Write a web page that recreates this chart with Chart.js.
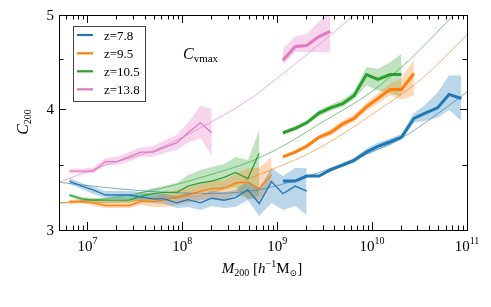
<!DOCTYPE html>
<html>
<head>
<meta charset="utf-8">
<script src="https://cdn.jsdelivr.net/npm/chart.js@4.4.0/dist/chart.umd.min.js"></script>
<style>
  html, body { margin: 0; padding: 0; background: #fff; }
</style>
</head>
<body>
<canvas id="chart" width="491" height="307"></canvas>
<script>
// log10 of the bin centre masses (h^-1 Msun)
const logM_low = [6.81, 6.94, 7.06, 7.19, 7.31, 7.44, 7.56, 7.69, 7.81, 7.94, 8.06, 8.19, 8.31, 8.44, 8.56, 8.69, 8.81, 8.94, 9.06, 9.19, 9.31];
const logM_high = [9.06, 9.19, 9.31, 9.44, 9.56, 9.69, 9.81, 9.94, 10.06, 10.19, 10.31, 10.44, 10.56, 10.69, 10.81, 10.94];

const labels = ["z=7.8", "z=9.5", "z=10.5", "z=13.8"];
const colors = ["#1f77b4", "#ff7f0e", "#2ca02c", "#e377c2"];

// low-mass run: median C200 and the shaded range
const blueLow = [3.37, 3.33, 3.30, 3.26, 3.26, 3.26, 3.245, 3.23, 3.23, 3.20, 3.225, 3.20, 3.235, 3.22, 3.24, 3.30, 3.195, 3.365, 3.27, 3.33, 3.29];
const blueLowHi = [3.395, 3.355, 3.323, 3.291, 3.291, 3.291, 3.283, 3.268, 3.268, 3.252, 3.276, 3.26, 3.291, 3.283, 3.299, 3.37, 3.315, 3.476, 3.411, 3.476, 3.476];
const blueLowLo = [3.346, 3.307, 3.268, 3.237, 3.229, 3.229, 3.214, 3.199, 3.191, 3.161, 3.169, 3.146, 3.176, 3.161, 3.169, 3.222, 3.101, 3.199, 3.146, 3.176, 3.109];

const orangeLow = [3.21, 3.21, 3.20, 3.18, 3.18, 3.18, 3.21, 3.21, 3.22, 3.245, 3.26, 3.29, 3.31, 3.315, 3.355, 3.36, 3.31, 3.42];
const orangeLowHi = [3.222, 3.229, 3.222, 3.206, 3.206, 3.206, 3.245, 3.245, 3.276, 3.299, 3.315, 3.346, 3.37, 3.378, 3.427, 3.476, 3.476, 3.568];
const orangeLowLo = [3.191, 3.199, 3.176, 3.161, 3.161, 3.161, 3.184, 3.169, 3.169, 3.184, 3.199, 3.222, 3.229, 3.222, 3.26, 3.237, 3.22, 3.346];

const greenLow = [3.26, 3.23, 3.22, 3.22, 3.22, 3.22, 3.25, 3.27, 3.28, 3.28, 3.33, 3.355, 3.37, 3.40, 3.44, 3.39, 3.60];
const greenLowHi = [3.276, 3.245, 3.237, 3.237, 3.245, 3.252, 3.283, 3.315, 3.33, 3.355, 3.419, 3.46, 3.484, 3.509, 3.568, 3.543, 3.805];
const greenLowLo = [3.245, 3.214, 3.199, 3.199, 3.199, 3.199, 3.222, 3.237, 3.237, 3.229, 3.26, 3.276, 3.283, 3.299, 3.323, 3.222, 3.26];

const pinkLow = [3.45, 3.45, 3.45, 3.53, 3.53, 3.57, 3.61, 3.61, 3.65, 3.69, 3.78, 3.87, 3.78];
const pinkLowHi = [3.47, 3.47, 3.48, 3.56, 3.57, 3.61, 3.65, 3.66, 3.71, 3.76, 3.87, 4.03, 4.00];
const pinkLowLo = [3.43, 3.43, 3.43, 3.50, 3.50, 3.53, 3.57, 3.57, 3.60, 3.63, 3.69, 3.73, 3.58];

// high-mass run
const blueHigh = [3.37, 3.37, 3.41, 3.41, 3.46, 3.50, 3.54, 3.61, 3.66, 3.70, 3.74, 3.91, 3.96, 4.01, 4.14, 4.10];
const blueHighHi = [3.38, 3.38, 3.42, 3.42, 3.47, 3.52, 3.56, 3.64, 3.69, 3.73, 3.77, 3.96, 4.04, 4.16, 4.33, 4.33];
const blueHighLo = [3.36, 3.36, 3.40, 3.40, 3.45, 3.49, 3.52, 3.59, 3.63, 3.67, 3.72, 3.87, 3.89, 3.92, 3.99, 3.89];

const orangeHigh = [3.57, 3.61, 3.66, 3.74, 3.78, 3.86, 3.91, 4.02, 4.10, 4.19, 4.19, 4.35];
const orangeHighHi = [3.58, 3.63, 3.68, 3.76, 3.81, 3.89, 3.95, 4.06, 4.15, 4.25, 4.30, 4.50];
const orangeHighLo = [3.56, 3.60, 3.64, 3.72, 3.75, 3.83, 3.88, 3.98, 4.05, 4.13, 4.09, 4.13];

const greenHigh = [3.78, 3.82, 3.87, 3.96, 4.01, 4.05, 4.13, 4.34, 4.29, 4.34, 4.34];
const greenHighHi = [3.79, 3.84, 3.89, 3.99, 4.04, 4.09, 4.17, 4.42, 4.40, 4.47, 4.56];
const greenHighLo = [3.76, 3.80, 3.85, 3.93, 3.98, 4.02, 4.09, 4.23, 4.18, 4.15, 4.12];

const pinkHigh = [4.49, 4.64, 4.65, 4.75, 4.81];
const pinkHighHi = [4.62, 4.75, 4.78, 4.92, 5.05];
const pinkHighLo = [4.44, 4.58, 4.58, 4.58, 4.57];

// thin fit curves
const blueFitM = [6.70, 7.24, 7.77, 8.25, 8.72, 9.06, 9.57, 10.0, 10.33, 10.63, 11.0];
const blueFitC = [3.36, 3.315, 3.283, 3.272, 3.291, 3.346, 3.476, 3.611, 3.742, 3.915, 4.164];
const orangeFitM = [6.70, 7.24, 7.77, 8.25, 8.72, 8.93, 9.28, 9.64, 9.99, 10.52, 11.0];
const orangeFitC = [3.199, 3.206, 3.229, 3.268, 3.395, 3.46, 3.577, 3.742, 3.943, 4.295, 4.768];
const greenFitM = [6.70, 7.24, 7.77, 8.25, 8.72, 9.06, 9.46, 9.99, 10.38, 10.86];
const greenFitC = [3.199, 3.237, 3.311, 3.411, 3.53, 3.663, 3.868, 4.164, 4.482, 5.0];
const pinkFitM = [6.70, 7.19, 7.72, 8.33, 8.72, 8.93, 9.44, 9.81];
const pinkFitC = [3.36, 3.50, 3.63, 3.89, 4.10, 4.25, 4.66, 5.0];

// axis ticks
const xTickExp = [7, 8, 9, 10, 11];
const yTicks = [3, 4, 5];
const yMinor = [3.5, 4.5];

const SERIF = '"Liberation Serif", "DejaVu Serif", serif';

const pts = (lm, v) => v.map((c, i) => ({ x: Math.pow(10, lm[i]), y: c }));
const rgba = (hex, a) => {
  const n = parseInt(hex.slice(1), 16);
  return `rgba(${n >> 16},${(n >> 8) & 255},${n & 255},${a})`;
};

const groups = [
  { c: colors[0], low: [blueLow, blueLowHi, blueLowLo], high: [blueHigh, blueHighHi, blueHighLo], fit: [blueFitM, blueFitC] },
  { c: colors[1], low: [orangeLow, orangeLowHi, orangeLowLo], high: [orangeHigh, orangeHighHi, orangeHighLo], fit: [orangeFitM, orangeFitC] },
  { c: colors[2], low: [greenLow, greenLowHi, greenLowLo], high: [greenHigh, greenHighHi, greenHighLo], fit: [greenFitM, greenFitC] },
  { c: colors[3], low: [pinkLow, pinkLowHi, pinkLowLo], high: [pinkHigh, pinkHighHi, pinkHighLo], fit: [pinkFitM, pinkFitC] }
];

const datasets = [];
groups.forEach(g => {
  [["low", logM_low, 1.3], ["high", logM_high, 3]].forEach(([key, lm, w]) => {
    const [mid, hi, lo] = g[key];
    datasets.push({ data: pts(lm, hi), borderWidth: 0, pointRadius: 0, fill: "+1", backgroundColor: rgba(g.c, 0.3), order: 3, clip: 0 });
    datasets.push({ data: pts(lm, lo), borderWidth: 0, pointRadius: 0, fill: false, order: 3, clip: 0 });
    datasets.push({ data: pts(lm, mid), borderColor: g.c, borderWidth: w, pointRadius: 0, fill: false, order: 0, clip: 0 });
  });
  datasets.push({
    data: pts(g.fit[0], g.fit[1]), borderColor: rgba(g.c, 0.75), borderWidth: 0.8,
    pointRadius: 0, fill: false, cubicInterpolationMode: "monotone", order: 1, clip: 0
  });
});

// draw text made of pieces: [text, font, dy]
function runs(ctx, x, y, parts, align) {
  let w = 0;
  parts.forEach(p => { ctx.font = p[1]; w += ctx.measureText(p[0]).width; });
  let cx = align === "center" ? x - w / 2 : align === "right" ? x - w : x;
  ctx.textAlign = "left";
  parts.forEach(p => {
    ctx.font = p[1];
    ctx.fillText(p[0], cx, y + (p[2] || 0));
    cx += ctx.measureText(p[0]).width;
  });
}

// clip everything drawn for the datasets (fills included) to the axes box
const clipFill = {
  id: "clipFill",
  beforeDraw(chart) {
    const a = chart.chartArea;
    chart.ctx.save();
    chart.ctx.beginPath();
    chart.ctx.rect(a.left, a.top, a.right - a.left, a.bottom - a.top);
    chart.ctx.clip();
  },
  afterDatasetsDraw(chart) {
    chart.ctx.restore();
  }
};

const decor = {
  id: "decor",
  afterDraw(chart) {
    const { ctx, chartArea: a, scales: { x, y } } = chart;
    ctx.save();
    ctx.strokeStyle = "#000";
    ctx.lineWidth = 1;
    ctx.strokeRect(Math.round(a.left) + 0.5, Math.round(a.top) + 0.5, Math.round(a.right - a.left), Math.round(a.bottom - a.top));

    // inward ticks on all four sides
    const tickX = (v, len) => {
      const px = Math.round(x.getPixelForValue(v)) + 0.5;
      ctx.beginPath();
      ctx.moveTo(px, a.bottom); ctx.lineTo(px, a.bottom - len);
      ctx.moveTo(px, a.top); ctx.lineTo(px, a.top + len);
      ctx.stroke();
    };
    const tickY = (v, len) => {
      const py = Math.round(y.getPixelForValue(v)) + 0.5;
      ctx.beginPath();
      ctx.moveTo(a.left, py); ctx.lineTo(a.left + len, py);
      ctx.moveTo(a.right, py); ctx.lineTo(a.right - len, py);
      ctx.stroke();
    };
    xTickExp.forEach(e => tickX(Math.pow(10, e), 8));
    for (let e = 6; e < 11; e++) {
      for (let k = 2; k < 10; k++) {
        const v = k * Math.pow(10, e);
        if (v > x.min && v < x.max) tickX(v, 4.5);
      }
    }
    yTicks.forEach(v => tickY(v, 7));
    yMinor.forEach(v => tickY(v, 4.5));

    // tick labels
    ctx.fillStyle = "#000";
    ctx.textBaseline = "alphabetic";
    xTickExp.forEach(e => {
      runs(ctx, x.getPixelForValue(Math.pow(10, e)), 251,
        [["10", `15px ${SERIF}`], [String(e), `10px ${SERIF}`, -7]], "center");
    });
    yTicks.forEach(v => {
      runs(ctx, a.left - 5, y.getPixelForValue(v) + 5, [[String(v), `15px ${SERIF}`]], "right");
    });

    // axis titles
    runs(ctx, 262, 273, [
      ["M", `italic 15px ${SERIF}`], ["200", `10px ${SERIF}`, 3],
      [" [", `15px ${SERIF}`], ["h", `italic 15px ${SERIF}`], ["\u22121", `10px ${SERIF}`, -6],
      ["M", `15px ${SERIF}`], ["\u2299", `9px ${SERIF}`, 3], ["]", `15px ${SERIF}`]
    ], "center");
    ctx.save();
    ctx.translate(28, 122);
    ctx.rotate(-Math.PI / 2);
    runs(ctx, 0, 0, [["C", `italic 16px ${SERIF}`], ["200", `10px ${SERIF}`, 3]], "center");
    ctx.restore();

    runs(ctx, 183, 59, [["C", `italic 16px ${SERIF}`], ["vmax", `11px ${SERIF}`, 3]], "left");

    // legend box
    ctx.fillStyle = "rgba(255,255,255,0.85)";
    ctx.fillRect(73.5, 26.5, 72, 75);
    ctx.strokeStyle = "#444";
    ctx.strokeRect(73.5, 26.5, 72, 75);
    const rowsY = [35, 53.3, 71.3, 89.3];
    labels.forEach((lab, i) => {
      ctx.strokeStyle = colors[i];
      ctx.lineWidth = 2.2;
      ctx.beginPath();
      ctx.moveTo(77, rowsY[i]); ctx.lineTo(93, rowsY[i]);
      ctx.stroke();
      ctx.fillStyle = "#000";
      runs(ctx, 104, rowsY[i] + 4.5, [[lab, `13px ${SERIF}`]], "left");
    });
    ctx.restore();
  }
};

new Chart(document.getElementById("chart"), {
  type: "line",
  data: { datasets },
  options: {
    responsive: false,
    animation: false,
    layout: { padding: { left: 59, right: 24, top: 15, bottom: 77 } },
    scales: {
      x: { type: "logarithmic", display: false, min: Math.pow(10, 6.7), max: 1e11 },
      y: { type: "logarithmic", display: false, min: 3, max: 5 }
    },
    plugins: {
      legend: { display: false },
      tooltip: { enabled: false },
      filler: { drawTime: "beforeDatasetsDraw" }
    }
  },
  plugins: [clipFill, decor]
});
</script>
</body>
</html>
